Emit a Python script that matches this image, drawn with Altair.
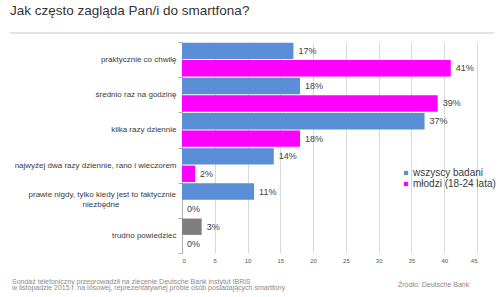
import altair as alt
import pandas as pd

# Survey answers (top to bottom) and shares in percent
categories = [
    "praktycznie co chwilę",
    "średnio raz na godzinę",
    "kilka razy dziennie",
    "najwyżej dwa razy dziennie, rano i wieczorem",
    "prawie nigdy, tylko kiedy jest to faktycznie niezbędne",
    "trudno powiedzieć",
]
series = ["wszyscy badani", "młodzi (18-24 lata)"]
all_respondents = [17, 18, 37, 14, 11, 3]
young = [41, 39, 18, 2, 0, 0]

# The long answer is printed on two lines
wrapped_category = categories[4]
wrapped_lines = ["prawie nigdy, tylko kiedy jest to faktycznie", "niezbędne"]

x_ticks = [0, 5, 10, 15, 20, 25, 30, 35, 40, 45]

title_text = "Jak często zagląda Pan/i do smartfona?"
footnote_lines = [
    "Sondaż telefoniczny przeprowadził na zlecenie Deutsche Bank instytut IBRiS",
    "w  listopadzie 2015 r. na losowej, reprezentatywnej próbie osób posiadających smartfony",
]
source_text = "Źródło: Deutsche Bank"

BLUE = "#5A8ED6"
PINK = "#FF00FF"
GREY = "#7F7F7F"
FONT = "Liberation Sans"
LABEL_COLOR = "#3a3a3a"
NOTE_COLOR = "#8a8a8a"

rows = []
for cat, a, y in zip(categories, all_respondents, young):
    # "don't know" answers of all respondents are shown in grey
    colour_key = "brak zdania" if cat == categories[-1] else series[0]
    rows.append({"kategoria": cat, "grupa": series[0], "kolor": colour_key, "wartosc": a})
    rows.append({"kategoria": cat, "grupa": series[1], "kolor": series[1], "wartosc": y})
df = pd.DataFrame(rows)

y_enc = alt.Y(
    "kategoria:N",
    sort=categories,
    scale=alt.Scale(paddingInner=0, paddingOuter=0),
    axis=alt.Axis(
        title=None,
        labelExpr=f"datum.value == '{wrapped_category}' ? '' : datum.value",
        labelFont=FONT,
        labelFontSize=8,
        labelColor=LABEL_COLOR,
        labelPadding=2,
        labelLimit=200,
        tickBand="extent",
        tickSize=4,
        tickColor="#b0b0b0",
        domainColor="#b0b0b0",
        grid=False,
    ),
)
y_off = alt.YOffset(
    "grupa:N",
    sort=series,
    scale=alt.Scale(paddingInner=0.06, paddingOuter=0.04),
)

x_enc = alt.X(
    "wartosc:Q",
    scale=alt.Scale(domain=[0, 45], nice=False),
    axis=alt.Axis(
        title=None,
        values=x_ticks,
        grid=True,
        gridColor="#d9d9d9",
        domain=False,
        ticks=False,
        labelOverlap=False,
        labelFont=FONT,
        labelFontSize=6,
        labelColor="#555555",
        labelPadding=4,
    ),
)

base = alt.Chart(df).encode(x=x_enc, y=y_enc, yOffset=y_off)

bars = base.mark_bar().encode(
    color=alt.Color(
        "kolor:N",
        scale=alt.Scale(domain=series + ["brak zdania"], range=[BLUE, PINK, GREY]),
        legend=alt.Legend(
            title=None,
            values=series,
            orient="none",
            legendX=219,
            legendY=126,
            symbolType="square",
            symbolSize=18,
            symbolStrokeWidth=0,
            labelFont=FONT,
            labelFontSize=10,
            labelColor=LABEL_COLOR,
            labelOffset=2,
            rowPadding=1,
        ),
    ),
)

values = base.mark_text(
    align="left", baseline="middle", dx=5, font=FONT, fontSize=9, color="#404040"
).encode(
    text=alt.Text("label:N"),
).transform_calculate(label="datum.wartosc + '%'")

wrap_df = pd.DataFrame({"kategoria": [wrapped_category], "l1": [wrapped_lines[0]], "l2": [wrapped_lines[1]]})
wrap_y = alt.Y("kategoria:N", sort=categories)
wrap1 = alt.Chart(wrap_df).mark_text(
    align="right", baseline="middle", dy=-5, font=FONT, fontSize=8, color=LABEL_COLOR
).encode(y=wrap_y, x=alt.value(-6), text="l1:N")
wrap2 = alt.Chart(wrap_df).mark_text(
    align="center", baseline="middle", dy=5, font=FONT, fontSize=8, color=LABEL_COLOR
).encode(y=wrap_y, x=alt.value(-81), text="l2:N")

# Heading above the plot and the thin line under it
title = alt.Chart(pd.DataFrame({"t": [title_text]})).mark_text(
    align="left", baseline="alphabetic", font=FONT, fontSize=13.5, color="#333333"
).encode(x=alt.value(-172), y=alt.value(-27), text="t:N")

title_rule = alt.Chart(pd.DataFrame({"t": [0]})).mark_rule(
    color="#c8c8c8", strokeWidth=1
).encode(x=alt.value(-172), x2=alt.value(312), y=alt.value(-9))


def note(text, x, y):
    return alt.Chart(pd.DataFrame({"t": [text]})).mark_text(
        align="left", baseline="middle", font=FONT, fontSize=7, color=NOTE_COLOR
    ).encode(x=alt.value(x), y=alt.value(y), text="t:N")


# Footnote and source below the x axis
note1 = note(footnote_lines[0], -170, 240)
note2 = note(footnote_lines[1], -170, 246)
source = note(source_text, 216, 243)

chart = alt.layer(
    bars, values, wrap1, wrap2, title, title_rule, note1, note2, source
).properties(
    width=295,
    height=211,
    autosize=alt.AutoSizeParams(type="none"),
    padding={"left": 182, "top": 42, "right": 23, "bottom": 44},
).configure_view(stroke=None)

chart.save("out.html", embed_options={"renderer": "svg", "actions": False})
